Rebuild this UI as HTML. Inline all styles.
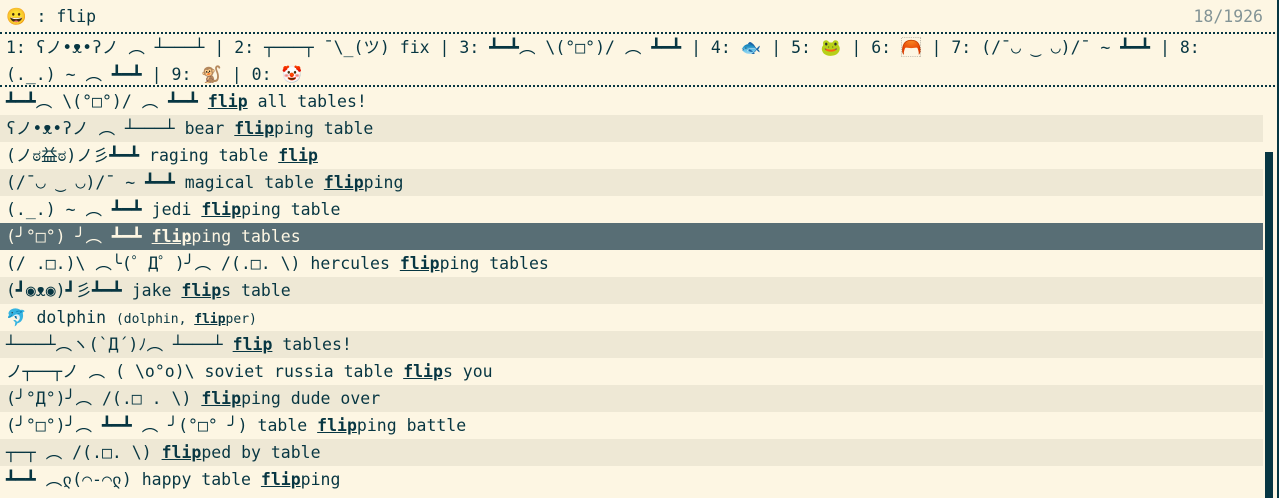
<!DOCTYPE html>
<html><head><meta charset="utf-8"><style>
html,body{margin:0;padding:0;}
body{width:1279px;height:498px;background:#fdf6e3;position:relative;overflow:hidden;font-family:"DejaVu Sans Mono","Liberation Mono","Noto Sans CJK JP",monospace;font-size:16.5px;color:#073642;}
.t{position:absolute;white-space:pre;}
.dash{position:absolute;left:0;width:1279px;height:0;border-top:2px dotted #073642;}
.row{position:absolute;left:0;width:1263px;height:27px;line-height:27px;white-space:pre;padding-left:6px;box-sizing:border-box;}
.alt{background:#eee8d5;}
.sel{background:#586e75;color:#fdf6e3;}
b{text-decoration:underline;font-weight:bold;}
.sm{font-size:13px;}
</style></head><body>
<div class="t" style="left:6px;top:6px;line-height:22px;">😀 : flip</div>
<div class="t" style="right:16px;top:6px;line-height:22px;color:#839496;">18/1926</div>
<div class="dash" style="top:32px;"></div>
<div class="t" style="left:6px;top:34px;line-height:27px;">1: ʕノ•ᴥ•ʔノ ︵ ┴───┴ | 2: ┬───┬ ¯\_(ツ) fix | 3: ┻━┻︵ \(°□°)/ ︵ ┻━┻ | 4: 🐟 | 5: 🐸 | 6: 🦰 | 7: (/¯◡ ‿ ◡)/¯ ~ ┻━┻ | 8:
(._.) ~ ︵ ┻━┻ | 9: 🐒 | 0: 🤡</div>
<div class="dash" style="top:85px;"></div>
<div class="row" style="top:88px;">┻━┻︵ \(°□°)/ ︵ ┻━┻ <b>flip</b> all tables!</div>
<div class="row alt" style="top:115px;">ʕノ•ᴥ•ʔノ ︵ ┴───┴ bear <b>flip</b>ping table</div>
<div class="row" style="top:142px;">(ノಠ益ಠ)ノ彡┻━┻ raging table <b>flip</b></div>
<div class="row alt" style="top:169px;">(/¯◡ ‿ ◡)/¯ ~ ┻━┻ magical table <b>flip</b>ping</div>
<div class="row" style="top:196px;">(._.) ~ ︵ ┻━┻ jedi <b>flip</b>ping table</div>
<div class="row sel" style="top:223px;">(╯°□°) ╯︵ ┻━┻ <b>flip</b>ping tables</div>
<div class="row" style="top:250px;">(/ .□.)\ ︵╰(゜Д゜)╯︵ /(.□. \) hercules <b>flip</b>ping tables</div>
<div class="row alt" style="top:277px;">(┛◉ᴥ◉)┛彡┻━┻ jake <b>flip</b>s table</div>
<div class="row" style="top:304px;">🐬 dolphin <span class="sm">(dolphin, <b>flip</b>per)</span></div>
<div class="row alt" style="top:331px;">┴───┴︵ヽ(`Д´)ﾉ︵ ┴───┴ <b>flip</b> tables!</div>
<div class="row" style="top:358px;">ノ┬──┬ノ ︵ ( \o°o)\ soviet russia table <b>flip</b>s you</div>
<div class="row alt" style="top:385px;">(╯°Д°)╯︵ /(.□ . \) <b>flip</b>ping dude over</div>
<div class="row" style="top:412px;">(╯°□°)╯︵ ┻━┻ ︵ ╯(°□° ╯) table <b>flip</b>ping battle</div>
<div class="row alt" style="top:439px;">┬─┬ ︵ /(.□. \) <b>flip</b>ped by table</div>
<div class="row" style="top:466px;">┻━┻ ︵ლ(⌒-⌒ლ) happy table <b>flip</b>ping</div>
<div style="position:absolute;left:1265px;top:152px;width:8px;height:346px;background:#073642;"></div>
<div style="position:absolute;left:1277px;top:0;width:2px;height:498px;background:#073642;"></div>
</body></html>
